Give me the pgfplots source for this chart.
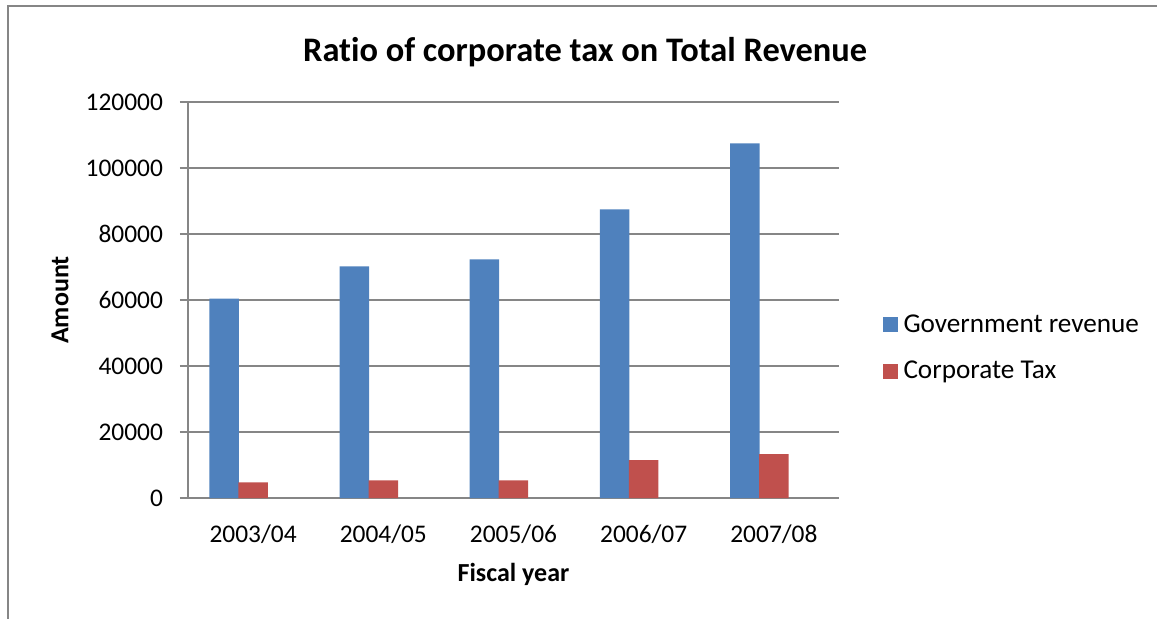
\documentclass[border=0pt]{standalone}
\usepackage{fontspec}
\setmainfont{Carlito}[Ligatures=NoCommon]
\usepackage{pgfplots}
\pgfplotsset{compat=1.18}

\definecolor{govblue}{RGB}{79,129,189}
\definecolor{corpred}{RGB}{192,80,77}
\definecolor{axisgray}{RGB}{134,134,134}

\begin{document}
\begin{tikzpicture}
% page = 1157 x 618 px at 0.5pt per px
\path[use as bounding box] (0,0) rectangle (578.5pt,-309pt);
% chart frame (bottom and right edges lie outside the picture)
\draw[axisgray, line width=1pt] (4pt,-330pt) -- (4pt,-2.75pt) -- (600pt,-2.75pt);

\begin{axis}[
    at={(94pt,-249pt)}, anchor=south west,
    width=325.5pt, height=198pt, scale only axis,
    xmin=-0.5, xmax=4.5,
    ymin=0, ymax=120000,
    xtick={0,1,2,3,4},
    xticklabels={2003/04,2004/05,2005/06,2006/07,2007/08},
    ytick={0,20000,40000,60000,80000,100000,120000},
    yticklabels={0,20000,40000,60000,80000,100000,120000},
    scaled y ticks=false,
    axis lines*=left,
    axis line style={axisgray, line width=0.8pt},
    ymajorgrids=true,
    grid style={axisgray, line width=0.8pt},
    tick align=outside,
    major tick length=4pt,
    ytick style={axisgray, line width=0.8pt},
    xtick style={draw=none},
    tick label style={font=\fontsize{12.7}{15}\selectfont, black},
    yticklabel style={xshift=-5pt},
    xticklabel style={yshift=-6pt},
    title={Ratio of corporate tax on Total Revenue},
    title style={font=\fontsize{17.2}{20}\selectfont\bfseries, at={(0.61,1)}, anchor=base, yshift=14.5pt},
    xlabel={Fiscal year},
    xlabel style={font=\fontsize{13}{15}\selectfont\bfseries, at={(0.5,-0.2096)}, anchor=base},
    ylabel={Amount},
    every axis y label/.style={font=\fontsize{13}{15}\selectfont\bfseries, at={(-0.1966,0.5)}, rotate=90, anchor=center},
    legend style={at={(1.057,0.378)}, anchor=west, draw=none, fill=none,
        font=\fontsize{13.6}{15}\selectfont, row sep=13pt,
        nodes={inner sep=0pt},
        /tikz/every odd column/.append style={column sep=3pt}},
    legend cell align=left,
    legend image code/.code={\fill[#1] (0pt,-3.75pt) rectangle (7.5pt,3.75pt);},
]
\addplot[ybar, fill=govblue, draw=none, bar width=14.75pt, bar shift=-14.5pt]
    coordinates {(0,60400) (1,70200) (2,72300) (3,87500) (4,107500)};
\addlegendentry{Government revenue}
\addplot[ybar, fill=corpred, draw=none, bar width=14.75pt, bar shift=0pt]
    coordinates {(0,4750) (1,5350) (2,5350) (3,11500) (4,13300)};
\addlegendentry{Corporate Tax}
\end{axis}
\end{tikzpicture}
\end{document}
